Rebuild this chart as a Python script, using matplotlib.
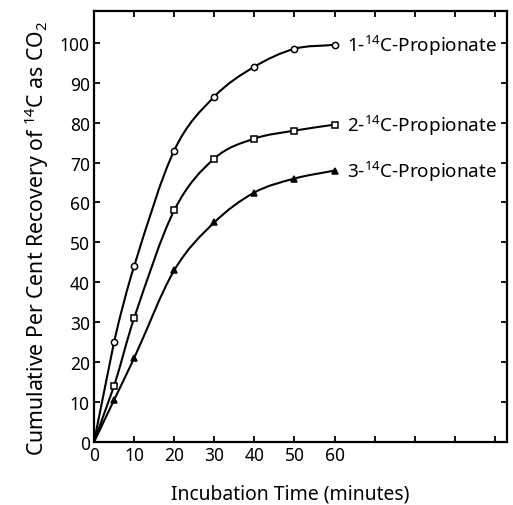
import matplotlib
matplotlib.use("Agg")
import matplotlib.pyplot as plt
from matplotlib.path import Path
from matplotlib.patches import PathPatch

time_min = [0, 5, 10, 20, 30, 40, 50, 60]
prop1 = [0, 25, 44, 73, 86.5, 94, 98.5, 99.5]
prop2 = [0, 14, 31, 58, 71, 76, 78, 79.5]
prop3 = [0, 10.5, 21, 43, 55, 62.5, 66, 68]
labels = ["1-$^{\\mathbf{14}}$C-Propionate", "2-$^{\\mathbf{14}}$C-Propionate", "3-$^{\\mathbf{14}}$C-Propionate"]
xticks = [0, 10, 20, 30, 40, 50, 60, 70, 80, 90, 100]
xticklabels = ["0", "10", "20", "30", "40", "50", "60", "", "", "", ""]
yticks = [0, 10, 20, 30, 40, 50, 60, 70, 80, 90, 100]

FONT = 'Noto Sans'
plt.rcParams['font.family'] = [FONT, 'DejaVu Sans']
plt.rcParams['mathtext.fontset'] = 'custom'
plt.rcParams['mathtext.rm'] = FONT
plt.rcParams['mathtext.bf'] = FONT + ':bold'

fig = plt.figure(figsize=(5.13, 5.06), dpi=100)
ax = fig.add_axes([0.1832, 0.1245, 0.805, 0.852])


def smooth_path(xs, ys):
    # cubic Hermite (as Bezier) through the data points, finite-difference slopes
    n = len(xs)
    slopes = []
    for i in range(n):
        if i == 0:
            slopes.append((ys[1] - ys[0]) / (xs[1] - xs[0]))
        elif i == n - 1:
            slopes.append((ys[-1] - ys[-2]) / (xs[-1] - xs[-2]))
        else:
            slopes.append((ys[i + 1] - ys[i - 1]) / (xs[i + 1] - xs[i - 1]))
    verts = [(xs[0], ys[0])]
    codes = [Path.MOVETO]
    for i in range(n - 1):
        h = xs[i + 1] - xs[i]
        if i == 0:
            verts.append((xs[1], ys[1]))
            codes.append(Path.LINETO)
            continue
        c1 = (xs[i] + h / 3, ys[i] + slopes[i] * h / 3)
        c2 = (xs[i + 1] - h / 3, ys[i + 1] - slopes[i + 1] * h / 3)
        verts += [c1, c2, (xs[i + 1], ys[i + 1])]
        codes += [Path.CURVE4] * 3
    return Path(verts, codes)


series = [prop1, prop2, prop3]
markers = ['o', 's', '^']
faces = ['white', 'white', 'black']
for vals, m, fc, lab in zip(series, markers, faces, labels):
    ax.add_patch(PathPatch(smooth_path(time_min, vals), fill=False, lw=1.5,
                           ec='black', zorder=2, transform=ax.transData))
    ax.plot(time_min[1:], vals[1:], ls='none', marker=m, ms=4.5, mfc=fc, mec='black',
            mew=1.1, zorder=3)
    ax.text(time_min[-1] + 3, vals[-1], lab, fontsize=13.6, va='center', ha='left')

ax.set_xlim(0, 103)
ax.set_ylim(0, 108)
ax.set_xticks(xticks)
ax.set_xticklabels(xticklabels)
ax.set_yticks(yticks)
ax.tick_params(direction='in', length=4, width=1.3, top=True, right=True,
               labelsize=12.5, pad=3)
for s in ax.spines.values():
    s.set_linewidth(1.6)

ax.set_xlabel("Incubation Time (minutes)", fontsize=13.9, labelpad=14, x=0.476)
ax.set_ylabel("Cumulative Per Cent Recovery of $^{\\mathbf{14}}$C as CO$_2$", fontsize=15.3,
              labelpad=6, y=0.476)

fig.savefig("out.png", dpi=100)
